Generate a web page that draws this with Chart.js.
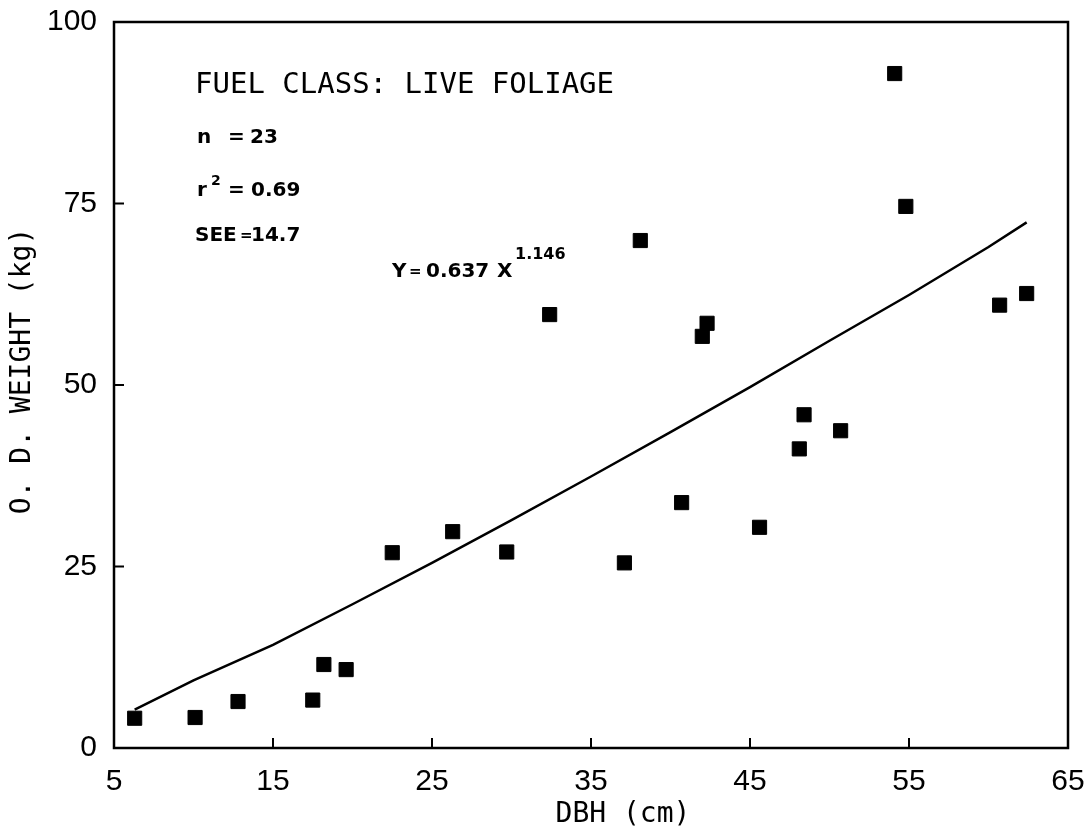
<!DOCTYPE html>
<html>
<head>
<meta charset="utf-8">
<script src="https://cdn.jsdelivr.net/npm/chart.js@4"></script>
<style>
  body { margin: 0; background: #fff; }
  #wrap { width: 1089px; height: 836px; }
</style>
</head>
<body>
<div id="wrap"><canvas id="chart1" width="1089" height="836"></canvas></div>
<script>
// observed trees: DBH (cm) and oven-dry weight of live foliage (kg)
const dbh = [6.3, 10.1, 12.8, 17.5, 18.2, 19.6, 22.5, 26.3, 29.7, 32.4, 38.1, 37.1,
  40.7, 42.0, 42.3, 45.6, 48.1, 48.4, 50.7, 54.1, 54.8, 60.7, 62.4];
const weight = [4.1, 4.2, 6.4, 6.6, 11.5, 10.8, 26.9, 29.8, 27.0, 59.7, 69.9, 25.5,
  33.8, 56.7, 58.5, 30.4, 41.2, 45.9, 43.7, 92.9, 74.6, 61.0, 62.6];

// fitted curve
const fitDbh = [6.3, 10, 15, 20, 25, 30, 35, 40, 45, 50, 55, 60, 62.4];
const fitWeight = [5.3, 9.3, 14.2, 19.8, 25.5, 31.4, 37.4, 43.5, 49.7, 56.1, 62.4, 69.0, 72.4];

const xTicks = [5, 15, 25, 35, 45, 55, 65];
const yTicks = [0, 25, 50, 75, 100];

const mono = '"DejaVu Sans Mono", monospace';
const bold = 'bold 20px "DejaVu Sans", sans-serif';
const small = 'bold 15px "DejaVu Sans", sans-serif';

// frame + inward tick marks
const frame = {
  id: 'frame',
  afterDraw(chart) {
    const { ctx, chartArea: a, scales } = chart;
    ctx.save();
    ctx.strokeStyle = '#000';
    ctx.lineWidth = 2.5;
    ctx.strokeRect(a.left, a.top, a.right - a.left, a.bottom - a.top);
    ctx.lineWidth = 2;
    ctx.beginPath();
    xTicks.forEach(v => {
      const px = scales.x.getPixelForValue(v);
      ctx.moveTo(px, a.bottom);
      ctx.lineTo(px, a.bottom - 10);
    });
    yTicks.forEach(v => {
      const py = scales.y.getPixelForValue(v);
      ctx.moveTo(a.left, py);
      ctx.lineTo(a.left + 10, py);
    });
    ctx.stroke();
    ctx.restore();
  },
};

// titles and the regression notes
const notes = {
  id: 'notes',
  afterDraw(chart) {
    const ctx = chart.ctx;
    const put = (text, x, y, font, align) => {
      ctx.font = font;
      ctx.textAlign = align || 'left';
      ctx.fillText(text, x, y);
    };
    ctx.save();
    ctx.fillStyle = '#000';
    ctx.textBaseline = 'middle';

    put('FUEL CLASS: LIVE FOLIAGE', 195, 85, '29px ' + mono);

    put('n', 197, 138, bold);
    put('=', 228, 138, bold);
    put('23', 250, 138, bold);

    put('r', 197, 191, bold);
    put('2', 211, 181, 'bold 14px "DejaVu Sans", sans-serif');
    put('=', 228, 191, bold);
    put('0.69', 251, 191, bold);

    put('SEE', 195, 236, bold);
    put('=', 240, 236, small);
    put('14.7', 251, 236, bold);

    put('Y', 392, 272, bold);
    put('=', 409, 272, small);
    put('0.637', 426, 272, bold);
    put('X', 497, 272, bold);
    put('1.146', 515, 255, 'bold 16px "DejaVu Sans", sans-serif');

    put('DBH (cm)', 623, 815, '28px ' + mono, 'center');

    ctx.translate(23, 371);
    ctx.rotate(-Math.PI / 2);
    put('O. D. WEIGHT (kg)', 0, 0, '28px ' + mono, 'center');
    ctx.restore();
  },
};

const tickFont = { size: 30, family: '"Liberation Sans Narrow", "Liberation Sans", sans-serif' };

new Chart(document.getElementById('chart1'), {
  type: 'scatter',
  data: {
    datasets: [
      {
        data: dbh.map((x, i) => ({ x, y: weight[i] })),
        pointStyle: 'rect',
        pointRadius: 10,
        pointBackgroundColor: '#000',
        pointBorderColor: '#000',
        pointBorderWidth: 1,
      },
      {
        data: fitDbh.map((x, i) => ({ x, y: fitWeight[i] })),
        showLine: true,
        borderColor: '#000',
        borderWidth: 2.5,
        pointRadius: 0,
        tension: 0,
      },
    ],
  },
  options: {
    responsive: false,
    animation: false,
    layout: { padding: { top: 22, right: 21, left: 0, bottom: 0 } },
    scales: {
      x: {
        type: 'linear',
        min: 5,
        max: 65,
        afterFit(scale) {
          scale.height = 88;
          scale.paddingLeft = 0;
          scale.paddingRight = 0;
        },
        afterBuildTicks(scale) { scale.ticks = xTicks.map(v => ({ value: v })); },
        grid: { display: false },
        border: { display: false },
        ticks: { color: '#000', font: tickFont, padding: 8, maxRotation: 0 },
      },
      y: {
        min: 0,
        max: 100,
        afterFit(scale) {
          scale.width = 114;
          scale.paddingTop = 0;
          scale.paddingBottom = 0;
        },
        afterBuildTicks(scale) { scale.ticks = yTicks.map(v => ({ value: v })); },
        grid: { display: false },
        border: { display: false },
        ticks: { color: '#000', font: tickFont, padding: 9 },
      },
    },
    plugins: {
      legend: { display: false },
      tooltip: { enabled: false },
    },
  },
  plugins: [frame, notes],
});
</script>
</body>
</html>
